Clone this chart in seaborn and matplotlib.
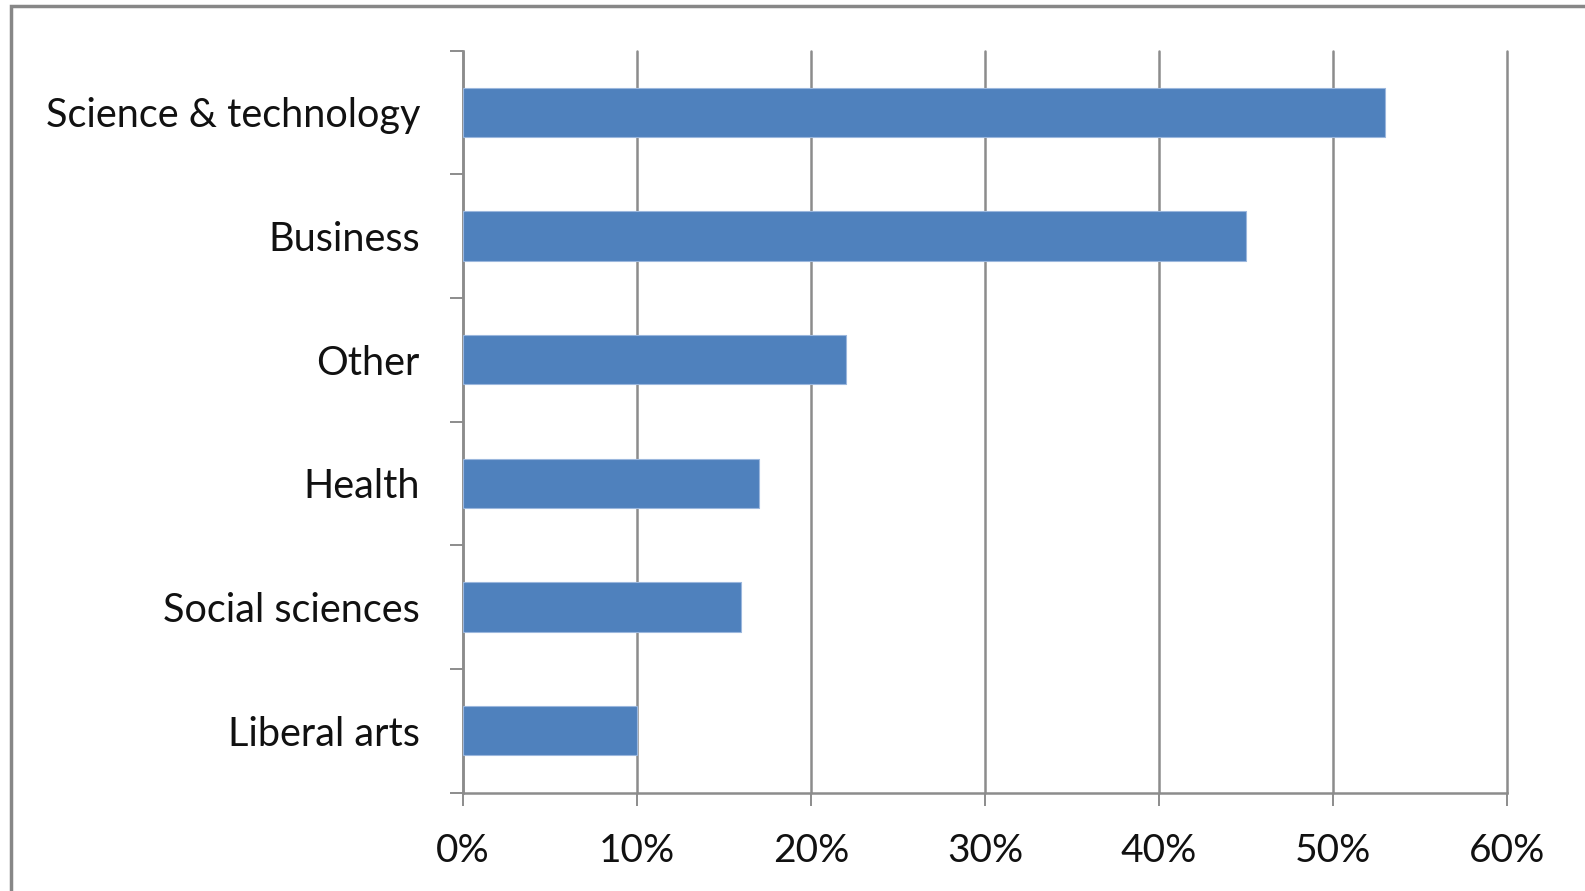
import matplotlib
matplotlib.use("Agg")
import matplotlib.pyplot as plt
from matplotlib.patches import Rectangle
from matplotlib.ticker import FixedLocator, PercentFormatter
import seaborn as sns
import pandas as pd

# Share of respondents by field of study (percent)
fields = ["Science & technology", "Business", "Other", "Health",
          "Social sciences", "Liberal arts"]
shares = [53, 45, 22, 17, 16, 10]
x_ticks = [0, 10, 20, 30, 40, 50, 60]

sns.set_theme(style="white")
plt.rcParams["font.family"] = ["Lato", "DejaVu Sans"]

df = pd.DataFrame({"field": fields, "share": shares})

fig = plt.figure(figsize=(15.85, 8.91), dpi=100)
ax = fig.add_axes([0.2921, 0.1105, 0.6587, 0.8328])

grid_color = "#8c8c8c"
sns.barplot(data=df, x="share", y="field", orient="h", color="#4F81BD",
            width=0.4, edgecolor="#9bb7dd", linewidth=0.8, saturation=1,
            ax=ax, zorder=3)

ax.set_xlim(0, 60)
ax.set_ylim(len(fields) - 0.5, -0.5)
ax.set_xticks(x_ticks)
ax.xaxis.set_major_formatter(PercentFormatter(decimals=0))
ax.grid(axis="x", color=grid_color, linewidth=1.8, zorder=0)
ax.set_axisbelow(True)
for gl in ax.get_xgridlines():
    gl.set_clip_on(False)
ax.set_xlabel("")
ax.set_ylabel("")

# category boundaries carry the tick marks, labels sit at bar centres
ax.yaxis.set_minor_locator(FixedLocator([i - 0.5 for i in range(len(fields) + 1)]))
ax.tick_params(axis="y", which="major", length=0, pad=31, labelsize=28.5,
               labelcolor="#111111")
ax.tick_params(axis="y", which="minor", left=True, length=9.5, width=1.4,
               color=grid_color, direction="out")
ax.tick_params(axis="x", which="major", bottom=True, length=9, width=1.4,
               color=grid_color, direction="out", pad=20, labelsize=28,
               labelcolor="#111111")

for side in ("top", "right"):
    ax.spines[side].set_visible(False)
for side in ("left", "bottom"):
    ax.spines[side].set_color(grid_color)
    ax.spines[side].set_linewidth(1.8)

# outer chart frame
fig.patches.append(Rectangle((11 / 1585, -0.1), 1.2, 1.1 - 6 / 891,
                             transform=fig.transFigure, fill=False,
                             edgecolor="#878787", linewidth=2.5))

fig.savefig("out.png", dpi=100)
